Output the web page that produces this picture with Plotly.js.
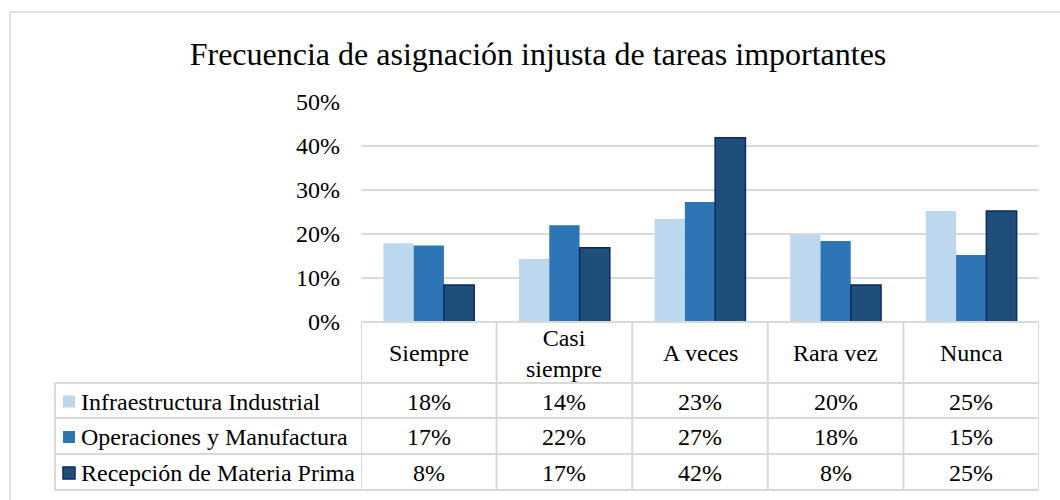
<!DOCTYPE html>
<html>
<head>
<meta charset="utf-8">
<script src="https://cdn.plot.ly/plotly-3.0.1.min.js"></script>
<style>html,body{margin:0;padding:0;background:#fff;}#chart{width:1060px;height:500px;}</style>
</head>
<body>
<div id="chart"></div>
<script>
var categories = ["Siempre", "Casi siempre", "A veces", "Rara vez", "Nunca"];
var categoryLabels = ["Siempre", "Casi<br>siempre", "A veces", "Rara vez", "Nunca"];
var seriesNames = ["Infraestructura Industrial", "Operaciones y Manufactura", "Recepción de Materia Prima"];
var infraestructura = [0.179, 0.143, 0.234, 0.198, 0.252];
var operaciones = [0.174, 0.220, 0.273, 0.184, 0.152];
var recepcion = [0.084, 0.169, 0.419, 0.084, 0.252];
var yTicks = [0, 0.1, 0.2, 0.3, 0.4, 0.5];
var yTickLabels = ["0%", "10%", "20%", "30%", "40%", "50%"];

var seriesValues = [infraestructura, operaciones, recepcion];
var colors = ["#BDD7EE", "#2E75B6", "#1F4E79"];
var outline = [null, null, "#0B2A66"];

var FONT = "Liberation Serif";
var FS = 24;
var L = 361, R = 1039, T = 102, B = 322;
var W = R - L, H = B - T;
function X(px) { return (px - L) / W; }
function Y(py) { return (B - py) / H; }

var traces = seriesValues.map(function (vals, s) {
  return {
    type: "bar",
    name: seriesNames[s],
    x: categories,
    y: vals,
    marker: {
      color: colors[s],
      line: outline[s] ? { color: outline[s], width: 1.5 } : { width: 0 }
    },
    hoverinfo: "none",
    showlegend: false
  };
});

var gridColor = "#D9D9D9";
var shapes = [];
var annotations = [];

shapes.push({ type: "rect", xref: "paper", yref: "paper", x0: X(10), x1: X(1070), y0: Y(12), y1: Y(510),
  line: { color: gridColor, width: 1.5 }, fillcolor: "rgba(0,0,0,0)", layer: "below" });

var rowLines = [383, 418, 454, 490];
shapes.push({ type: "line", xref: "paper", yref: "paper", x0: X(L), x1: X(R), y0: Y(B), y1: Y(B), line: { color: gridColor, width: 2 } });
rowLines.forEach(function (py) {
  shapes.push({ type: "line", xref: "paper", yref: "paper", x0: X(55), x1: X(R), y0: Y(py), y1: Y(py), line: { color: gridColor, width: 2 } });
});
for (var i = 0; i <= categories.length; i++) {
  shapes.push({ type: "line", xref: "x", yref: "paper", x0: i - 0.5, x1: i - 0.5, y0: Y(B), y1: Y(490), line: { color: gridColor, width: 2 } });
}
shapes.push({ type: "line", xref: "paper", yref: "paper", x0: X(55), x1: X(55), y0: Y(383), y1: Y(490), line: { color: gridColor, width: 2 } });

categoryLabels.forEach(function (lab, i) {
  annotations.push({ xref: "x", yref: "paper", x: i, y: Y(353), text: lab, showarrow: false,
    xanchor: "center", yanchor: "middle", font: { family: FONT, size: FS, color: "#000" } });
});

seriesValues.forEach(function (vals, s) {
  var cy = (rowLines[s] + rowLines[s + 1]) / 2;
  vals.forEach(function (v, i) {
    annotations.push({ xref: "x", yref: "paper", x: i, y: Y(cy + 1), text: Math.round(v * 100) + "%", showarrow: false,
      xanchor: "center", yanchor: "middle", font: { family: FONT, size: FS, color: "#000" } });
  });
  shapes.push({ type: "rect", xref: "paper", yref: "paper", x0: X(63), x1: X(75), y0: Y(cy - 5), y1: Y(cy + 7),
    fillcolor: colors[s], line: outline[s] ? { color: outline[s], width: 1.5 } : { width: 0 } });
  annotations.push({ xref: "paper", yref: "paper", x: X(79), y: Y(cy + 1), text: seriesNames[s], showarrow: false,
    xanchor: "left", yanchor: "middle", font: { family: FONT, size: FS, color: "#000" } });
});

var layout = {
  width: 1060, height: 500,
  font: { family: FONT, size: FS, color: "#000" },
  margin: { l: L, r: 1060 - R, t: T, b: 500 - B, pad: 0 },
  paper_bgcolor: "#fff", plot_bgcolor: "#fff",
  title: { text: "Frecuencia de asignación injusta de tareas importantes", font: { family: FONT, size: 32, color: "#000" },
    x: 538 / 1060, xanchor: "center", y: 1 - 54 / 500, yanchor: "middle" },
  barmode: "group", bargap: 0.33, bargroupgap: 0,
  showlegend: false,
  xaxis: { type: "category", range: [-0.5, 4.5], showticklabels: false, showgrid: false, zeroline: false, showline: false, fixedrange: true },
  yaxis: { range: [0, 0.5], tickvals: yTicks, ticktext: yTickLabels, showgrid: true, gridcolor: gridColor, gridwidth: 1.5,
    zeroline: false, showline: false, ticks: "", ticklabelstandoff: 20,
    tickfont: { family: FONT, size: FS, color: "#000" }, fixedrange: true },
  shapes: shapes,
  annotations: annotations
};

Plotly.newPlot("chart", traces, layout, { displayModeBar: false, staticPlot: true });
</script>
</body>
</html>
